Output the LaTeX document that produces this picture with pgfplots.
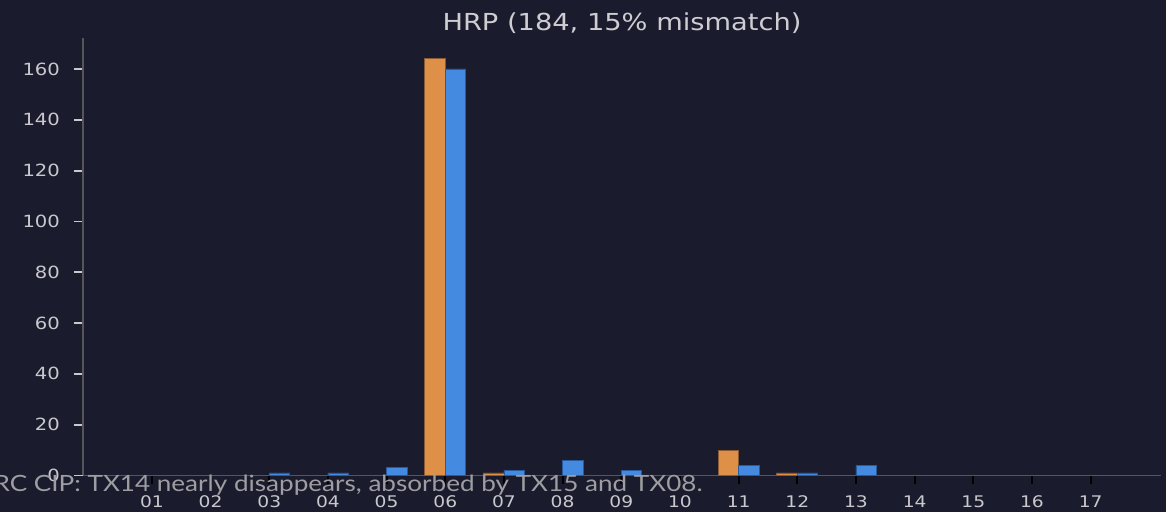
\documentclass[border=0pt]{standalone}
\usepackage{graphicx}
\usepackage{pgfplots}
\pgfplotsset{compat=1.18}
\usepackage{fontspec}
\setmainfont{DejaVu Sans}
\newfontfamily\capfont{Lato}

\definecolor{bg}{RGB}{27,27,46}
\definecolor{spine}{RGB}{85,85,90}
\definecolor{ticktxt}{RGB}{200,200,205}
\definecolor{titletxt}{RGB}{205,205,210}
\definecolor{captxt}{RGB}{158,158,162}
\definecolor{barA}{RGB}{222,143,72}
\definecolor{barAedge}{RGB}{140,90,50}
\definecolor{barB}{RGB}{68,138,224}
\definecolor{barBedge}{RGB}{40,90,160}

% the reference text is stretched sideways
\newcommand{\sx}[1]{\scalebox{1.165}[1]{#1}}

\begin{document}
\begin{tikzpicture}
% 1 px of the reference = 0.5pt
\path[use as bounding box, fill=bg] (0,0) rectangle (583pt,256pt);
\begin{axis}[
    at={(41.5pt,18.25pt)}, anchor=south west,
    scale only axis,
    width=539pt, height=218.75pt,
    xmin=-0.175, xmax=18.2,
    ymin=0, ymax=172.2,
    axis x line*=bottom,
    axis y line*=left,
    axis line style={draw=spine, line width=0.6pt, -},
    xtick={1,...,17},
    xticklabels={\sx{01},\sx{02},\sx{03},\sx{04},\sx{05},\sx{06},\sx{07},\sx{08},\sx{09},
                 \sx{10},\sx{11},\sx{12},\sx{13},\sx{14},\sx{15},\sx{16},\sx{17}},
    ytick={0,20,...,160},
    yticklabel={\sx{\pgfmathprintnumber{\tick}}},
    tick align=outside,
    major tick length=4.5pt,
    xtick style={draw=black, line width=0.9pt},
    ytick style={draw=ticktxt, line width=0.9pt},
    xticklabel style={font=\fontsize{8}{9}\selectfont, text=ticktxt, inner sep=0pt, anchor=north, yshift=-5.5pt},
    yticklabel style={font=\fontsize{8.4}{10}\selectfont, text=ticktxt, inner sep=0pt, anchor=east, xshift=-6.85pt},
    /pgf/number format/assume math mode=true,
    ybar, bar width=0.35,
    clip=false,
]
% orange series
\addplot[fill=barA, draw=barAedge, line width=0.4pt, bar shift=-0.175] coordinates {
  (6,164) (7,1) (11,10) (12,1)
};
% blue series
\addplot[fill=barB, draw=barBedge, line width=0.4pt, bar shift=0.175] coordinates {
  (3,1) (4,1) (5,3) (6,160) (7,2) (8,6) (9,2) (11,4) (12,1) (13,4)
};
\node[anchor=base, inner sep=0pt, text=titletxt, font=\fontsize{11.7}{14}\selectfont]
  at (rel axis cs:0.5,1) [yshift=3.65pt] {\sx{HRP (184, 15\% mismatch)}};
\end{axis}
\node[anchor=base east, inner sep=0pt, text=captxt, font=\capfont\fontsize{11.2}{14}\selectfont]
  at (351.5pt,10.4pt) {\sx{RC CIP: TX14 nearly disappears, absorbed by TX15 and TX08.}};
\end{tikzpicture}
\end{document}
